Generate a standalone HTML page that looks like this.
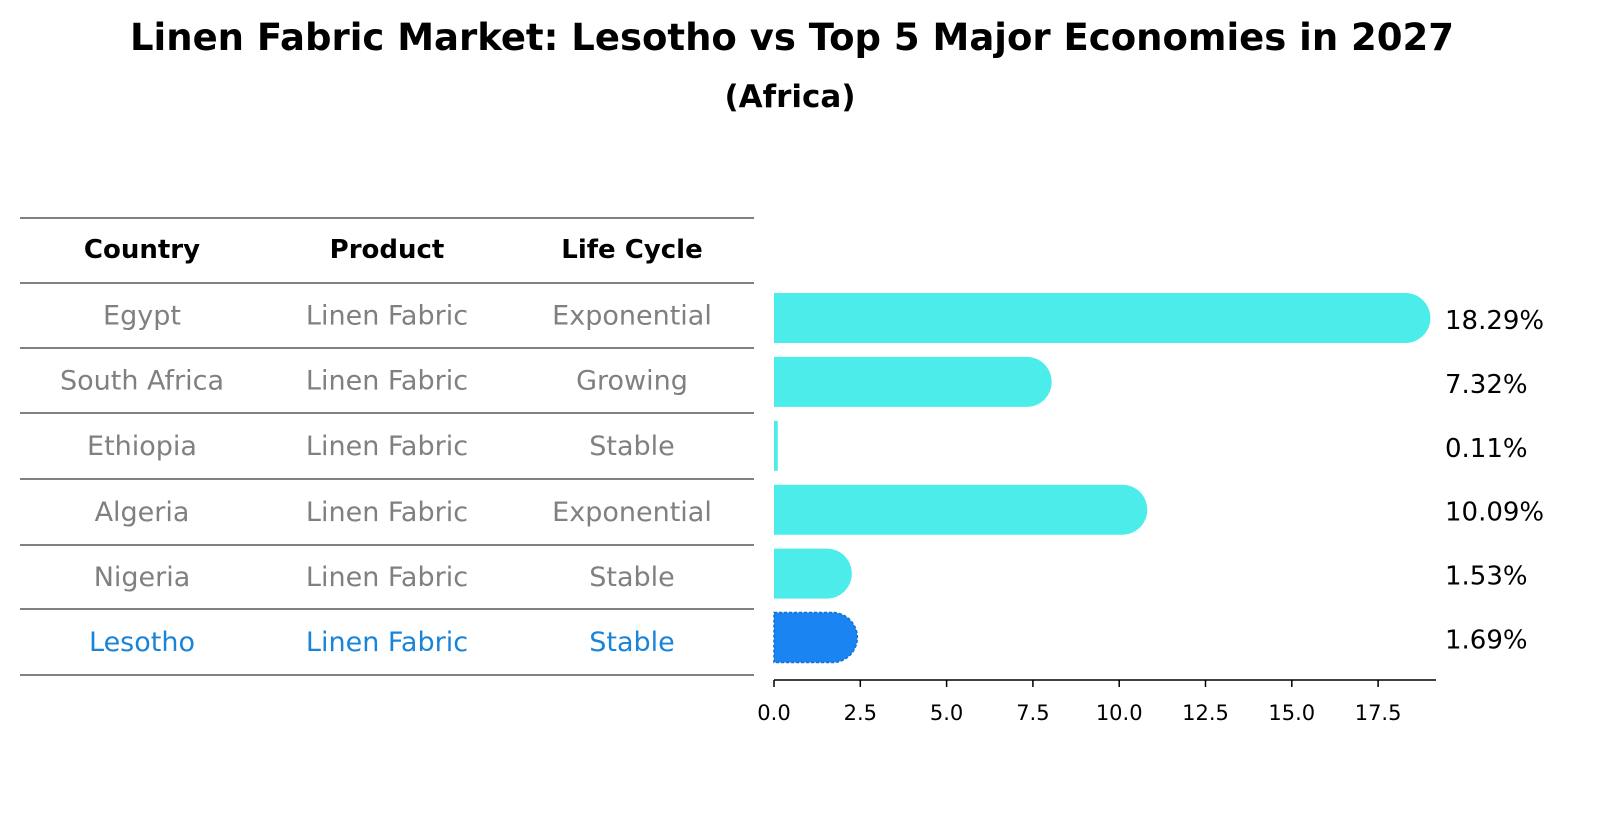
<!DOCTYPE html>
<html><head><meta charset="utf-8"><style>
body{margin:0;background:#fff;font-family:"Liberation Sans","DejaVu Sans",sans-serif}
</style></head><body>
<svg width="1604" height="823" xmlns="http://www.w3.org/2000/svg" font-family="DejaVu Sans, Liberation Sans, sans-serif">
<text x="792" y="50" text-anchor="middle" font-size="37" font-weight="bold">Linen Fabric Market: Lesotho vs Top 5 Major Economies in 2027</text>
<text x="790" y="107" text-anchor="middle" font-size="31" font-weight="bold">(Africa)</text>
<g id="table"></g>
<g id="bars"></g>
<g id="axis"></g>
</svg>
<script>
const countries=["Egypt","South Africa","Ethiopia","Algeria","Nigeria","Lesotho"];
const products=["Linen Fabric","Linen Fabric","Linen Fabric","Linen Fabric","Linen Fabric","Linen Fabric"];
const cycles=["Exponential","Growing","Stable","Exponential","Stable","Stable"];
const values=[18.29,7.32,0.11,10.09,1.53,1.69];
const ticks=[0,2.5,5,7.5,10,12.5,15,17.5];
const NS="http://www.w3.org/2000/svg";
function mk(tag,attrs,parent,text){const e=document.createElementNS(NS,tag);for(const k in attrs)e.setAttribute(k,attrs[k]);if(text!==undefined)e.textContent=text;parent.appendChild(e);return e;}
const x0=774,ppu=34.52;
const xs=v=>x0+v*ppu;
const rowY=i=>318+i*63.9;
const table=document.getElementById('table');
const lines=[218,283,348,413,479,545,609,675];
lines.forEach((y,i)=>{const l=mk('line',{x1:20,x2:754,y1:y,y2:y,stroke:'#000','stroke-width':1},table);

});
const colX=[142,387,632];
["Country","Product","Life Cycle"].forEach((h,i)=>{const t=mk('text',{x:colX[i],y:258,'text-anchor':'middle','font-size':26,'font-weight':'bold'},table,h);

});
countries.forEach((c,i)=>{const col=c==="Lesotho"?"#1a84d8":"#808080";const y=(lines[i+1]+lines[i+2])/2+9;
[c,products[i],cycles[i]].forEach((s,j)=>{const t=mk('text',{x:colX[j],y:y,'text-anchor':'middle','font-size':27,fill:col},table,s);

});});
const bars=document.getElementById('bars');
values.forEach((v,i)=>{const cy=rowY(i);const r=25;const col=countries[i]==="Lesotho"?"#1a84f2":"#4bece9";
const w=xs(v)-x0;let d;
if(v>0.5){d=`M${x0},${cy-r} H${x0+w} A${r},${r} 0 0 1 ${x0+w},${cy+r} H${x0} Z`;}
else{d=`M${x0},${cy-r} H${x0+Math.max(w,3)} V${cy+r} H${x0} Z`;}
const p=mk('path',{d:d,fill:col},bars);
if(countries[i]==="Lesotho"){p.setAttribute('stroke','#1570d0');p.setAttribute('stroke-dasharray','3,2');p.setAttribute('stroke-width','1.5');}


const t=mk('text',{x:1445,y:cy+11,'font-size':26},bars,v.toFixed(2)+'%');

});
const axis=document.getElementById('axis');
const al=mk('line',{x1:x0,x2:1436,y1:680,y2:680,stroke:'#000','stroke-width':1.5},axis);


ticks.forEach(t=>{const x=xs(t);const tl=mk('line',{x1:x,x2:x,y1:680,y2:687,stroke:'#000','stroke-width':1.5},axis);


const tx=mk('text',{x:x,y:720,'text-anchor':'middle','font-size':21},axis,t.toFixed(1));

});
</script>
</body></html>
